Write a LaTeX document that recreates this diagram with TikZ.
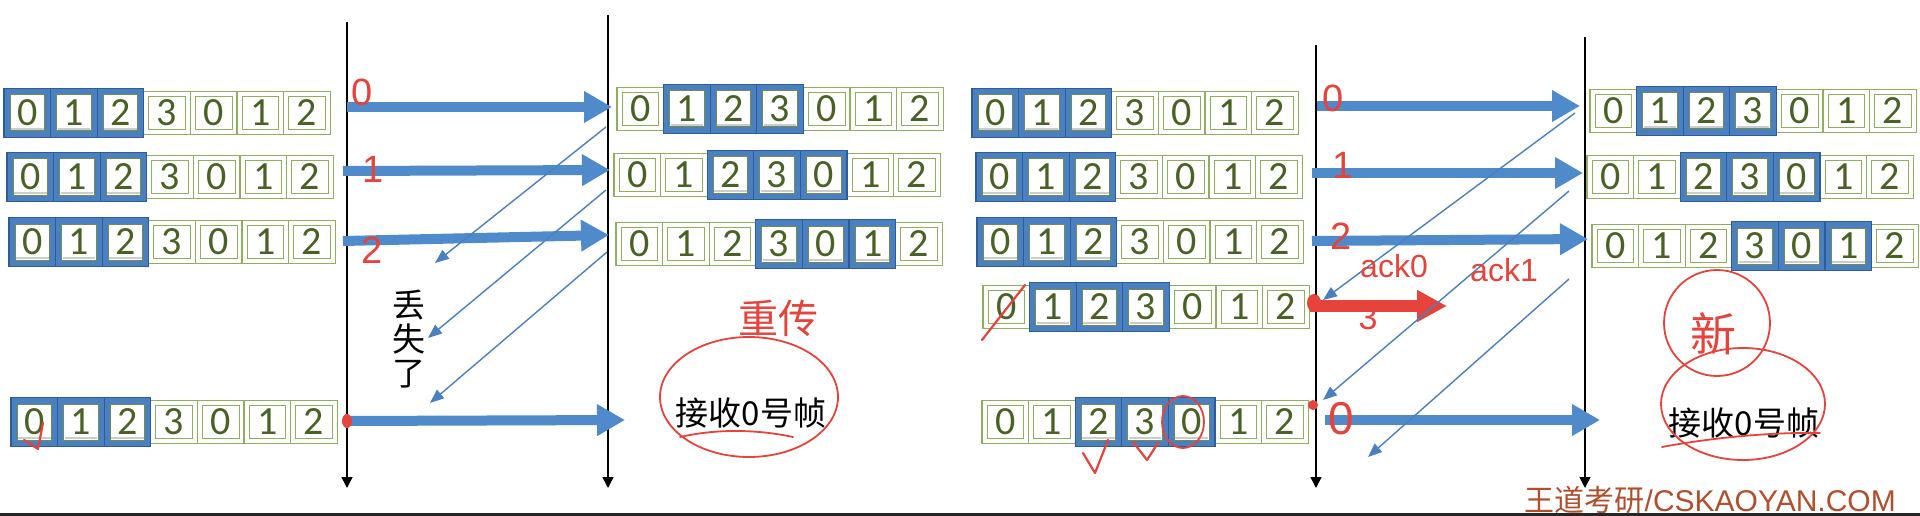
\documentclass[tikz,border=0pt]{standalone}
\usepackage{fontspec}
\setmainfont{Carlito}
\newfontfamily\cjk{Noto Sans CJK SC}
\newfontfamily\arial{Liberation Sans}
\usetikzlibrary{arrows.meta}
\definecolor{cellgreen}{HTML}{8FB05A}
\definecolor{digitgreen}{HTML}{4A6125}
\definecolor{bufblue}{HTML}{4A80C0}
\definecolor{bufdark}{HTML}{2E5C96}
\definecolor{arrowblue}{HTML}{4F8BCB}
\definecolor{ackblue}{HTML}{4A7FC0}
\definecolor{pen}{HTML}{E5433B}
\definecolor{wmcol}{HTML}{B14E2C}
\def\cw{46.6}
\newcommand{\greencell}[2]{%
  \draw[line width=1.2pt, draw=cellgreen, fill=white] (#1,#2-21.5) rectangle ++(\cw,43);
  \draw[line width=1pt, draw=cellgreen] (#1+5,#2-16.5) rectangle ++(\cw-10,33);
}
\newcommand{\bluecell}[2]{%
  \fill[bufblue] (#1,#2-24.5) rectangle ++(\cw,49);
  \draw[line width=1.2pt, draw=bufdark] (#1,#2-24.5) rectangle ++(\cw,49);
  \draw[line width=1pt, draw=cellgreen!80!black, fill=white] (#1+6,#2-18) rectangle ++(\cw-12,36);
  \draw[line width=2pt, draw=black!20] (#1+7,#2+16) -- ++(\cw-14,0);
}
\newcommand{\bufrow}[5]{% name, x, y, lo, hi
  \foreach \k in {0,...,6}{%
    \pgfmathsetmacro{\xa}{#2+\k*\cw}%
    \pgfmathtruncatemacro{\isb}{and(\k>=#4,\k<=#5)}%
    \ifnum\isb=0 \greencell{\xa}{#3}\fi
  }%
  \foreach \k in {0,...,6}{%
    \pgfmathsetmacro{\xa}{#2+\k*\cw}%
    \pgfmathtruncatemacro{\isb}{and(\k>=#4,\k<=#5)}%
    \ifnum\isb=1 \bluecell{\xa}{#3}\fi
  }%
  \foreach \d [count=\k from 0] in {0,1,2,3,0,1,2}{%
    \pgfmathsetmacro{\xa}{#2+\k*\cw}%
    \node[digit] (#1-\k) at (\xa+\cw/2,#3) {\d};
  }%
}
\begin{document}
\begin{tikzpicture}[x=1pt,y=-1pt,
  digit/.style={font=\fontsize{40}{40}\selectfont, text=digitgreen, inner sep=0pt},
  vline/.style={line width=1.5pt, draw=black, -{Triangle[length=11pt,width=11pt]}},
  fat/.style={line width=10pt, draw=arrowblue, -{Triangle[length=28pt,width=30pt]}},
  fatred/.style={line width=12pt, draw=pen, -{Triangle[length=30pt,width=30pt]}},
  ack/.style={line width=1.4pt, draw=ackblue, -{Triangle[length=14pt,width=11pt]}},
  pentext/.style={text=pen, font=\arial\fontsize{38}{38}\selectfont, inner sep=0pt},
  penline/.style={draw=pen, line width=2.2pt, line cap=round, line join=round},
  cjktext/.style={font=\cjk\fontsize{33}{34}\selectfont, text=black, inner sep=0pt}
]
\useasboundingbox (0,0) rectangle (1920,516);
\fill[white] (0,0) rectangle (1920,516);

% ---------- time lines ----------
\coordinate (LSt) at (347,22);   \coordinate (LSb) at (347,488);
\coordinate (LRt) at (608,15);   \coordinate (LRb) at (608,488);
\coordinate (RSt) at (1316,45);  \coordinate (RSb) at (1316,488);
\coordinate (RRt) at (1585,37);  \coordinate (RRb) at (1585,488);
\draw[vline] (LSt) -- (LSb);
\draw[vline] (LRt) -- (LRb);
\draw[vline] (RSt) -- (RSb);
\draw[vline] (RRt) -- (RRb);

% ---------- left panel buffers ----------
\bufrow{S1}{4}{113}{0}{2}
\bufrow{S2}{7}{177}{0}{2}
\bufrow{S3}{9}{242}{0}{2}
\bufrow{S4}{11}{422}{0}{2}
\bufrow{R1}{617}{109}{1}{3}
\bufrow{R2}{614}{175}{2}{4}
\bufrow{R3}{616}{244}{3}{5}

% ---------- right panel buffers ----------
\bufrow{T1}{972}{113}{0}{2}
\bufrow{T2}{976}{177}{0}{2}
\bufrow{T3}{977}{242}{0}{2}
\bufrow{T4}{983}{307}{1}{3}
\bufrow{T5}{982}{422}{2}{4}
\bufrow{U1}{1590}{111}{1}{3}
\bufrow{U2}{1587}{177}{2}{4}
\bufrow{U3}{1592}{246}{3}{5}

% ---------- left arrows ----------
\coordinate (a0s) at (347,107); \coordinate (a0e) at (612,107);
\coordinate (a1s) at (343,171); \coordinate (a1e) at (610,170);
\coordinate (a2s) at (343,241); \coordinate (a2e) at (609,235);
\coordinate (a4s) at (347,421); \coordinate (a4e) at (625,420);
\draw[fat] (a0s) -- (a0e);
\draw[fat] (a1s) -- (a1e);
\draw[fat] (a2s) -- (a2e);
\draw[fat] (a4s) -- (a4e);
\coordinate (k0s) at (606,127); \coordinate (k0e) at (435,263);
\coordinate (k1s) at (606,190); \coordinate (k1e) at (428,338);
\coordinate (k2s) at (607,252); \coordinate (k2e) at (430,403);
\draw[ack] (k0s) -- (k0e);
\draw[ack] (k1s) -- (k1e);
\draw[ack] (k2s) -- (k2e);
\node[cjktext, align=center] (lost) at (409,339) {丢\\失\\了};
\node[cjktext] (recvL) at (751,413) {接收0号帧};

% ---------- right arrows ----------
\coordinate (b0s) at (1317,106); \coordinate (b0e) at (1580,106);
\coordinate (b1s) at (1312,173); \coordinate (b1e) at (1583,173);
\coordinate (b2s) at (1312,241); \coordinate (b2e) at (1588,239);
\coordinate (b3s) at (1310,306); \coordinate (b3e) at (1447,306);
\coordinate (b4s) at (1325,420); \coordinate (b4e) at (1600,420);
\draw[fat] (b0s) -- (b0e);
\draw[fat] (b1s) -- (b1e);
\draw[fat] (b2s) -- (b2e);
\draw[fatred] (b3s) -- (b3e);
\draw[fat] (b4s) -- (b4e);
\coordinate (m0s) at (1575,113); \coordinate (m0e) at (1323,300);
\coordinate (m1s) at (1569,191); \coordinate (m1e) at (1323,400);
\coordinate (m2s) at (1569,279); \coordinate (m2e) at (1368,457);
\draw[ack] (m0s) -- (m0e);
\draw[ack] (m1s) -- (m1e);
\draw[ack] (m2s) -- (m2e);
\node[cjktext] (recvR) at (1744,423) {接收0号帧};

% ---------- red pen annotations, left ----------
\node[pentext] (pl0) at (362,92) {0};
\node[pentext] (pl1) at (373,169) {1};
\node[pentext] (pl2) at (372,250) {2};
\fill[pen] (347,421) ellipse (5 and 7);
\draw[penline] (24,440) -- (38,449) -- (43,423);
\node[text=pen, font=\cjk\fontsize{40}{40}\selectfont, inner sep=0pt] (chong) at (778,318) {重传};
\draw[penline, line width=1.8pt] (749,397) ellipse (89 and 60);
\draw[penline, line width=1.8pt] (680,437) .. controls (720,428) and (760,430) .. (793,437);

% ---------- red pen annotations, right ----------
\node[pentext] (pr0) at (1333,98) {0};
\node[pentext] (pr1) at (1343,165) {1};
\node[pentext] (pr2) at (1341,236) {2};
\node[pentext, font=\arial\fontsize{32}{32}\selectfont] (pack0) at (1394,266) {ack0};
\node[pentext, font=\arial\fontsize{32}{32}\selectfont] (pack1) at (1504,270) {ack1};
\node[pentext, font=\arial\fontsize{34}{34}\selectfont] (pr3) at (1368,318) {3};
\fill[pen] (1314,303) ellipse (7 and 9);
\node[pentext, font=\arial\fontsize{46}{46}\selectfont] (pr0b) at (1341,419) {0};
\fill[pen] (1313,405) circle (5);
\draw[penline] (982,340) -- (1025,285);
\draw[penline, line width=1.8pt] (1183,422) ellipse (21 and 26);
\draw[penline] (1083,453) -- (1095,473) -- (1108,440);
\draw[penline] (1133,442) -- (1147,460) -- (1158,443);
\draw[penline, line width=1.8pt] (1717,323) circle (53);
\node[text=pen, font=\cjk\fontsize{46}{46}\selectfont, inner sep=0pt] (xin) at (1713,334) {新};
\draw[penline, line width=1.8pt] (1743,404) ellipse (82 and 56);
\draw[penline, line width=1.8pt] (1662,447) .. controls (1710,438) and (1770,432) .. (1820,433);

% ---------- watermark and bottom rule ----------
\node[text=wmcol, font=\fontsize{30}{30}\selectfont, anchor=east, inner sep=0pt] (wm) at (1896,500) {{\cjk 王道考研}{\arial /CSKAOYAN.COM}};
\coordinate (bl) at (0,514.5); \coordinate (br) at (1920,514.5);
\draw[line width=3pt, black!85] (bl) -- (br);
\end{tikzpicture}
\end{document}
